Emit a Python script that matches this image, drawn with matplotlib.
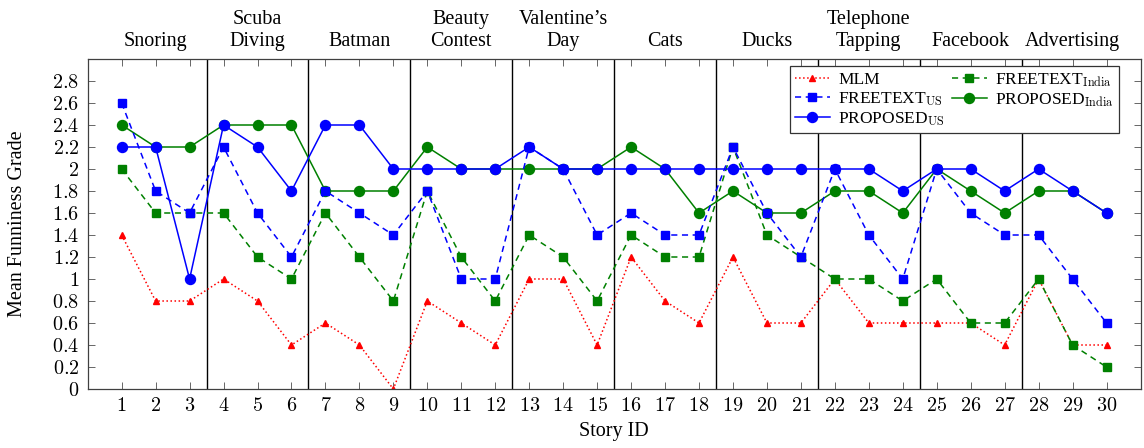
import numpy as np
import matplotlib
matplotlib.use("Agg")
import matplotlib.pyplot as plt
from matplotlib.ticker import FuncFormatter

plt.rcParams["font.family"] = ["Liberation Serif", "DejaVu Serif"]
plt.rcParams["mathtext.fontset"] = "cm"

story_ids = np.arange(1, 31)
stories = ["Snoring", "Scuba\nDiving", "Batman", "Beauty\nContest", "Valentine\u2019s\nDay",
           "Cats", "Ducks", "Telephone\nTapping", "Facebook", "Advertising"]

mlm = [1.4, 0.8, 0.8, 1.0, 0.8, 0.4, 0.6, 0.4, 0.0, 0.8,
       0.6, 0.4, 1.0, 1.0, 0.4, 1.2, 0.8, 0.6, 1.2, 0.6,
       0.6, 1.0, 0.6, 0.6, 0.6, 0.6, 0.4, 1.0, 0.4, 0.4]
freetext_us = [2.6, 1.8, 1.6, 2.2, 1.6, 1.2, 1.8, 1.6, 1.4, 1.8,
               1.0, 1.0, 2.2, 2.0, 1.4, 1.6, 1.4, 1.4, 2.2, 1.6,
               1.2, 2.0, 1.4, 1.0, 2.0, 1.6, 1.4, 1.4, 1.0, 0.6]
proposed_us = [2.2, 2.2, 1.0, 2.4, 2.2, 1.8, 2.4, 2.4, 2.0, 2.0,
               2.0, 2.0, 2.2, 2.0, 2.0, 2.0, 2.0, 2.0, 2.0, 2.0,
               2.0, 2.0, 2.0, 1.8, 2.0, 2.0, 1.8, 2.0, 1.8, 1.6]
freetext_india = [2.0, 1.6, 1.6, 1.6, 1.2, 1.0, 1.6, 1.2, 0.8, 1.8,
                  1.2, 0.8, 1.4, 1.2, 0.8, 1.4, 1.2, 1.2, 2.2, 1.4,
                  1.2, 1.0, 1.0, 0.8, 1.0, 0.6, 0.6, 1.0, 0.4, 0.2]
proposed_india = [2.4, 2.2, 2.2, 2.4, 2.4, 2.4, 1.8, 1.8, 1.8, 2.2,
                  2.0, 2.0, 2.0, 2.0, 2.0, 2.2, 2.0, 1.6, 1.8, 1.6,
                  1.6, 1.8, 1.8, 1.6, 2.0, 1.8, 1.6, 1.8, 1.8, 1.6]

GREEN = (0, 0.5, 0)
BLUE = (0, 0, 1)
RED = (1, 0, 0)

fig = plt.figure(figsize=(11.44, 4.48), dpi=100)
ax = fig.add_axes([87.7 / 1144, 1 - 389 / 448, (1140.5 - 87.7) / 1144, (389 - 59) / 448])

h_mlm, = ax.plot(story_ids, mlm, color=RED, ls=":", lw=1.1, marker="^", ms=4.5,
                 label="MLM", zorder=2)
h_fti, = ax.plot(story_ids, freetext_india, color=GREEN, ls=(0, (4, 3)), lw=1.1, marker="s", ms=6.3,
                 label=r"FREETEXT$_{\mathrm{India}}$", zorder=3)
h_pi, = ax.plot(story_ids, proposed_india, color=GREEN, ls="-", lw=1.1, marker="o", ms=7.2,
                label=r"PROPOSED$_{\mathrm{India}}$", zorder=4)
h_pus, = ax.plot(story_ids, proposed_us, color=BLUE, ls="-", lw=1.1, marker="o", ms=7.2,
                 label=r"PROPOSED$_{\mathrm{US}}$", zorder=5)
h_ftus, = ax.plot(story_ids, freetext_us, color=BLUE, ls=(0, (4, 3)), lw=1.1, marker="s", ms=6.3,
                  label=r"FREETEXT$_{\mathrm{US}}$", zorder=6)

# story separators and names
for k in range(1, len(stories)):
    ax.axvline(3 * k + 0.5, color="black", lw=1.0, zorder=1)
for k, name in enumerate(stories):
    ax.text(3 * k + 2, 1.024, name, transform=ax.get_xaxis_transform(),
            ha="center", va="bottom", fontsize=14.5, linespacing=1.25)

ax.set_xlim(0, 31)
ax.set_ylim(0, 3.0)
ax.set_xticks(story_ids)
ax.set_yticks(np.arange(0, 2.81, 0.2))
fmt = FuncFormatter(lambda v, p: f"${v:g}$")
ax.xaxis.set_major_formatter(fmt)
ax.yaxis.set_major_formatter(fmt)
ax.tick_params(direction="in", length=5, width=0.6, labelsize=14.5,
               top=True, right=True, color="0.3")
ax.tick_params(axis="x", pad=6)
ax.tick_params(axis="y", pad=6)
for s in ax.spines.values():
    s.set_linewidth(0.9)
    s.set_color("0.25")

ax.set_xlabel("Story ID", fontsize=14.5)
ax.set_ylabel("Mean Funniness Grade", fontsize=14.5)
ax.xaxis.set_label_coords(0.5, -0.10)
ax.yaxis.set_label_coords(-0.058, 0.5)

leg = ax.legend(handles=[h_mlm, h_ftus, h_pus, h_fti, h_pi], ncol=2,
                loc="upper right", bbox_to_anchor=(0.980, 0.979), fontsize=12.5,
                frameon=True, fancybox=False, framealpha=1, edgecolor="0.2",
                handlelength=2.0, handletextpad=0.5, columnspacing=0.4,
                labelspacing=0.12, borderpad=0.3, numpoints=1, borderaxespad=0)
leg.get_frame().set_linewidth(0.9)
leg.set_zorder(10)

fig.savefig("out.png", dpi=100)
